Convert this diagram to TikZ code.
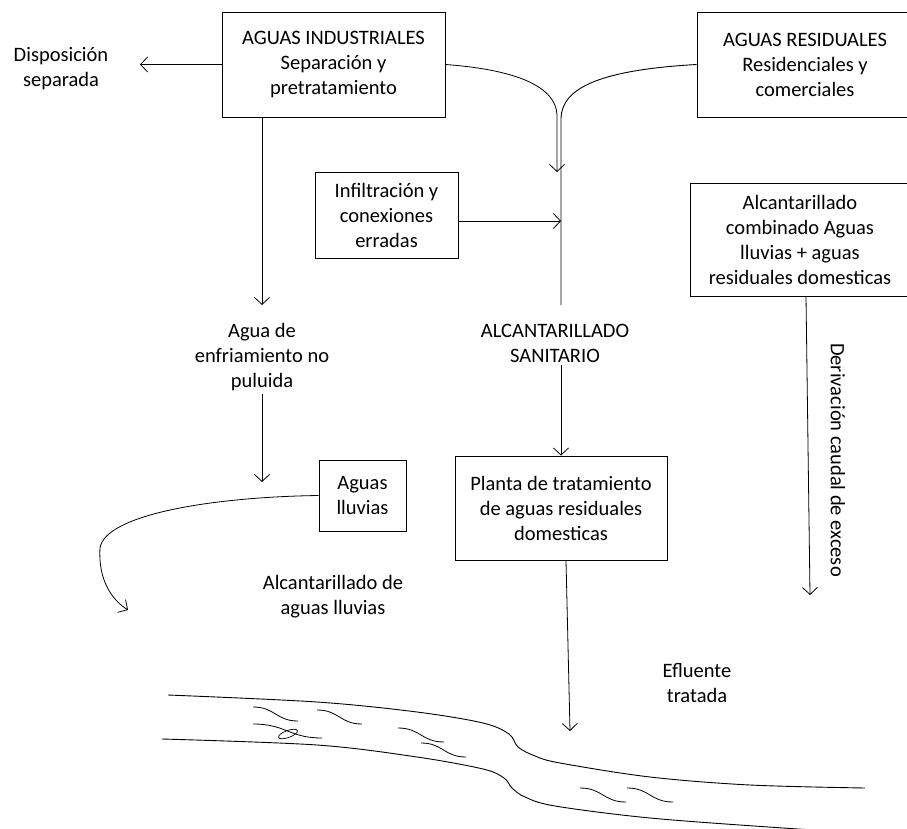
\documentclass[tikz,border=0pt]{standalone}
\usepackage{fontspec}
\setmainfont{Carlito}
\usetikzlibrary{arrows.meta,positioning}

\begin{document}
\begin{tikzpicture}[x=1pt,y=-1pt,
    every node/.style={font=\fontsize{20.5}{25}\selectfont},
    caja/.style={draw,line width=0.9pt,align=center,inner sep=0pt},
    texto/.style={align=center,inner sep=3pt},
    flecha/.style={line width=0.8pt,-{Straight Barb[length=7pt,width=15pt]}},
    linea/.style={line width=0.9pt}]
  \useasboundingbox (0,0) rectangle (907,829);
  \clip (0,0) rectangle (907,829);

  % cajas
  \path (333.5,64.5) node[caja,minimum width=223,minimum height=105] (A) {AGUAS INDUSTRIALES\\Separación y\\pretratamiento};
  \path (805,64.5) node[caja,minimum width=216,minimum height=105] (B) {AGUAS RESIDUALES\\Residenciales y\\comerciales};
  \path (386.5,215) node[caja,minimum width=143,minimum height=86] (C) {Infiltración y\\conexiones\\erradas};
  \path (800,239.5) node[caja,minimum width=220,minimum height=113] (D) {Alcantarillado\\combinado Aguas\\lluvias + aguas\\residuales domesticas};
  \path (561,508) node[caja,minimum width=212,minimum height=104] (E) {Planta de tratamiento\\de aguas residuales\\domesticas};
  \path (362.5,495.5) node[caja,minimum width=87,minimum height=71] (F) {Aguas\\lluvias};

  % textos
  \path (61,69) node[texto] (G) {Disposición\\separada};
  \path (262,357) node[texto] (H) {Agua de\\enfriamiento no\\puluida};
  \path (555,343) node[texto] (I) {ALCANTARILLADO\\SANITARIO};
  \path (333,597) node[texto] (J) {Alcantarillado de\\aguas lluvias};
  \path (697,683) node[texto] (K) {Efluente\\tratada};
  \path (838,460) node[texto,rotate=-90] (L) {Derivación caudal de exceso};

  \coordinate (g) at (140,64.5);
  \coordinate (s) at (561,305);
  \coordinate (a) at (262,305);
  \coordinate (h) at (262,482);
  \coordinate (r) at (570,731);
  \coordinate (d) at (810,595);
  \coordinate (f) at (128,610);

  % conectores
  \draw[flecha] (A.west) -- (g);
  \draw[flecha] (A.east) .. controls (520,70) and (556,88) .. (557,115) -- (557,172);
  \draw[linea] (B.west) .. controls (600,70) and (562,88) .. (561,118) -- (s);
  \draw[flecha] ([yshift=-6pt]C.east) -- ([yshift=-6pt]C.east -| s);
  \draw[flecha] (A.south -| a) -- (a);
  \draw[flecha] (H.south) -- (h);
  \draw[flecha] (I.south -| E.north) -- (E.north);
  \draw[flecha] ([xshift=5pt]E.south) -- (r);
  \draw[flecha] ([xshift=6pt]D.south) -- (d);
  \draw[flecha] (F.west) .. controls (210,497) and (105,515) .. (100,548) .. controls (98,580) and (112,600) .. (f);

  % rio
  \draw[linea] plot[smooth,tension=0.55] coordinates {(168,695) (317,702) (417,712) (483,723) (509,734) (518,747) (535,756) (560,763) (650,777) (750,785) (865,788)};
  \draw[linea] plot[smooth,tension=0.55] coordinates {(162,739) (317,745) (417,757) (483,769) (504,778) (512,788) (525,797) (555,806) (650,818) (783,828) (850,832)};
  \foreach \x/\y/\w in {253/707/45, 317/710/45, 253/724/69, 398/728/46, 421/743/45, 580/788/46, 627/788/46}
    \draw[line width=0.8pt] (\x,\y) to[out=0,in=180,looseness=1.2] ++(\w,14);
  \draw[line width=0.7pt,rotate around={20:(288,734)}] (288,734) ellipse (10 and 3.5);
\end{tikzpicture}
\end{document}
